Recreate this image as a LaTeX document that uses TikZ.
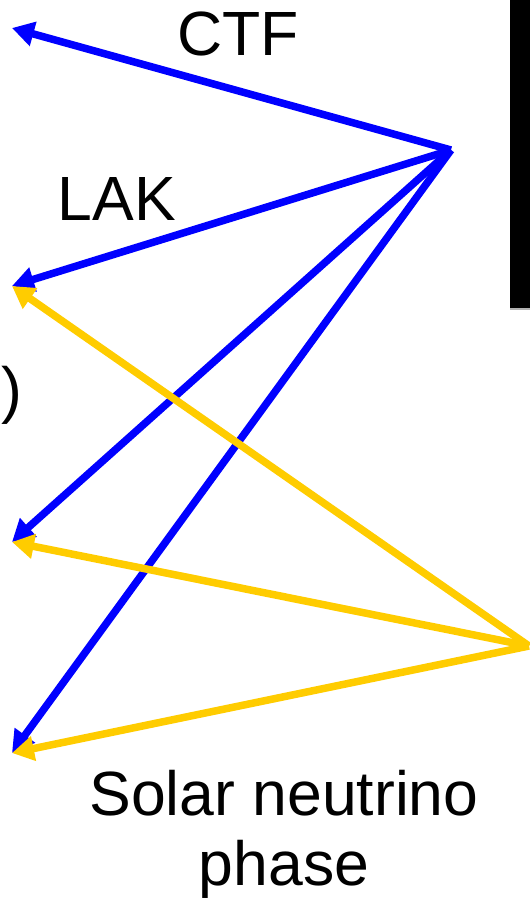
\documentclass[tikz,border=0pt]{standalone}
\usepackage{fontspec}
\setmainfont{Liberation Sans}
\usetikzlibrary{arrows.meta}
\definecolor{arrblue}{RGB}{0,0,255}
\definecolor{arryellow}{RGB}{255,204,0}
\tikzset{
  arr/.style={line width=7.5pt, -{Triangle[length=22pt,width=24pt]}, shorten >=0pt},
  bluearr/.style={arr, draw=arrblue},
  yelarr/.style={arr, draw=arryellow},
  lbl/.style={font=\fontsize{62.5}{70}\selectfont, inner sep=0pt, text=black},
  pt/.style={inner sep=0pt, minimum size=0pt}
}
\begin{document}
\begin{tikzpicture}[x=1pt,y=-1pt]
\useasboundingbox (0,0) rectangle (530,900);
% black bar
\fill[black] (510,0) rectangle (530,308);
\fill[gray!60] (510,308) rectangle (530,310);
% points
\coordinate (bsrc) at (451,150);
\coordinate (ysrc) at (529,646);
\coordinate (t1) at (12,28);
\coordinate (t2) at (12,286);
\coordinate (t3) at (12,542);
\coordinate (t4) at (12,753);
% blue arrows
\draw[bluearr] (bsrc) -- (t1);
\draw[bluearr] (bsrc) -- (t2);
\draw[bluearr] (bsrc) -- (t3);
\draw[bluearr] (bsrc) -- (t4);
% yellow arrows
\draw[yelarr] (ysrc) -- (t2);
\draw[yelarr] (ysrc) -- (t3);
\draw[yelarr] (ysrc) -- (t4);
% labels
\node[lbl, anchor=base] (ctf) at (238,55) {CTF};
\node[lbl, anchor=base] (lak) at (117,220) {LAK};
\node[lbl, anchor=base west] (paren) at (1,411) {)};
\node[lbl, anchor=base] (sol) at (284,815) {Solar neutrino};
\node[lbl, anchor=base] (pha) at (284,885) {phase};
\end{tikzpicture}
\end{document}
